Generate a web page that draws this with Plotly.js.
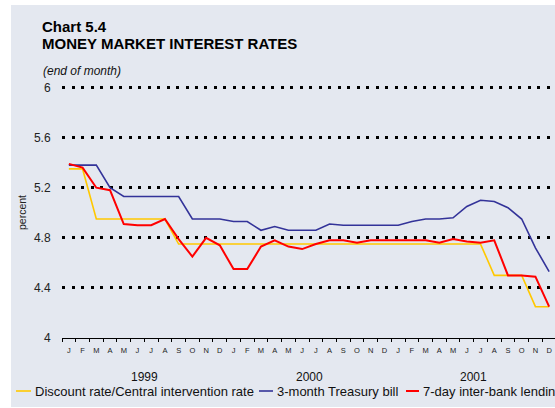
<!DOCTYPE html>
<html>
<head>
<meta charset="utf-8">
<script src="https://cdn.plot.ly/plotly-3.0.1.min.js"></script>
<style>
  html, body { margin: 0; padding: 0; background: #ffffff; overflow: hidden; width: 555px; height: 408px; }
  #chart { position: absolute; left: 11px; top: 5px; width: 550px; height: 402px; }
</style>
</head>
<body>
<div id="chart"></div>
<script>
// ---- data ----
const years = ['1999', '2000', '2001'];
const monthLetters = ['J','F','M','A','M','J','J','A','S','O','N','D'];
const yTickVals = [4, 4.4, 4.8, 5.2, 5.6, 6];
const yTickText = ['4', '4.4', '4.8', '5.2', '5.6', '6'];

const seriesNames = ['Discount rate/Central intervention rate', '3-month Treasury bill', '7-day inter-bank lending'];

const discountRate = [5.35, 5.35, 4.95, 4.95, 4.95, 4.95, 4.95, 4.95, 4.75, 4.75, 4.75, 4.75,
                      4.75, 4.75, 4.75, 4.75, 4.75, 4.75, 4.75, 4.75, 4.75, 4.75, 4.75, 4.75,
                      4.75, 4.75, 4.75, 4.75, 4.75, 4.75, 4.75, 4.50, 4.50, 4.50, 4.25, 4.25];
const treasuryBill = [5.38, 5.38, 5.38, 5.20, 5.13, 5.13, 5.13, 5.13, 5.13, 4.95, 4.95, 4.95,
                      4.93, 4.93, 4.86, 4.89, 4.86, 4.86, 4.86, 4.91, 4.90, 4.90, 4.90, 4.90,
                      4.90, 4.93, 4.95, 4.95, 4.96, 5.05, 5.10, 5.09, 5.04, 4.95, 4.72, 4.53];
const interbank7d  = [5.39, 5.36, 5.20, 5.18, 4.91, 4.90, 4.90, 4.95, 4.79, 4.65, 4.80, 4.74,
                      4.55, 4.55, 4.73, 4.78, 4.73, 4.71, 4.75, 4.78, 4.78, 4.76, 4.78, 4.78,
                      4.78, 4.78, 4.78, 4.76, 4.79, 4.77, 4.76, 4.78, 4.50, 4.50, 4.49, 4.25];

const colors = ['#FFC800', '#333399', '#FF0000'];

// ---- categories (built from years x months) ----
const months = [];
const monthText = [];
years.forEach(y => monthLetters.forEach((m, i) => {
  months.push(y + '-' + String(i + 1).padStart(2, '0'));
  monthText.push(m);
}));

// ---- geometry helpers (pixel -> paper) ----
const DIV_L = 11, DIV_T = 5;
const M = { l: 51, r: 5, t: 80, b: 69 };
const W = 550 - M.l - M.r, H = 402 - M.t - M.b;
const px = x => (x - DIV_L - M.l) / W;
const py = y => 1 - (y - DIV_T - M.t) / H;

const FONT = 'Liberation Sans, Arial, Helvetica, sans-serif';

const traces = [discountRate, treasuryBill, interbank7d].map((vals, k) => ({
  type: 'scatter',
  mode: 'lines',
  x: months,
  y: vals,
  name: seriesNames[k],
  line: { color: colors[k], width: k === 2 ? 2 : 1.6 },
  hoverinfo: 'skip'
}));

const annotations = [
  { text: '<b>Chart 5.4</b>', x: px(42), y: py(26), font: { size: 15, color: '#000' } },
  { text: '<b>MONEY MARKET INTEREST RATES</b>', x: px(42), y: py(43), font: { size: 15, color: '#000' } },
  { text: '<i>(end of month)</i>', x: px(43), y: py(71), font: { size: 12, color: '#111' } },
  { text: 'percent', x: px(22), y: py(213), textangle: -90, xanchor: 'center', font: { size: 10.5, color: '#222' } }
];
years.forEach((y, i) => {
  annotations.push({ text: y, xref: 'x', x: 12 * i + 5.5, y: py(377), xanchor: 'center', font: { size: 12, color: '#111' } });
});

const legendPos = [{ s: 16, e: 31, t: 35 }, { s: 259, e: 273, t: 277 }, { s: 406, e: 419, t: 422.5 }];
const shapes = [];
seriesNames.forEach((n, k) => {
  const p = legendPos[k];
  shapes.push({ type: 'line', xref: 'paper', yref: 'paper', x0: px(p.s), x1: px(p.e), y0: py(391), y1: py(391),
                line: { color: colors[k], width: k === 2 ? 2 : 1.6 } });
  annotations.push({ text: n, x: px(p.t), y: py(391), font: { size: 13, color: '#111' } });
});
annotations.forEach(a => {
  a.xref = a.xref || 'paper'; a.yref = 'paper'; a.showarrow = false;
  a.xanchor = a.xanchor || 'left'; a.yanchor = 'middle'; a.borderpad = 0; a.borderwidth = 0;
  a.font.family = FONT;
});

const layout = {
  width: 550, height: 402,
  margin: M,
  paper_bgcolor: '#E4E8F0',
  plot_bgcolor: '#E4E8F0',
  showlegend: false,
  font: { family: FONT, color: '#222' },
  xaxis: {
    type: 'category',
    categoryorder: 'array',
    categoryarray: months,
    tickmode: 'array',
    tickvals: months,
    ticktext: monthText,
    tickson: 'boundaries',
    ticks: 'outside', ticklen: 3, tickcolor: '#000', tickwidth: 1,
    ticklabelstandoff: 5,
    tickfont: { size: 7.5, color: '#222' },
    tickangle: 0,
    showline: true, linecolor: '#000', linewidth: 1,
    showgrid: false, zeroline: false,
    range: [-0.5, 35.5],
    fixedrange: true
  },
  yaxis: {
    range: [4, 6.02],
    tickmode: 'array',
    tickvals: yTickVals,
    ticktext: yTickText,
    ticks: 'outside', ticklen: 8, tickcolor: 'rgba(0,0,0,0)',
    tickfont: { size: 12, color: '#222' },
    showgrid: true, gridcolor: '#000', gridwidth: 3, griddash: '3px,6.5px',
    showline: false, zeroline: false,
    fixedrange: true
  },
  shapes: shapes,
  annotations: annotations
};

Plotly.newPlot('chart', traces, layout, { staticPlot: true, displayModeBar: false });
</script>
</body>
</html>
